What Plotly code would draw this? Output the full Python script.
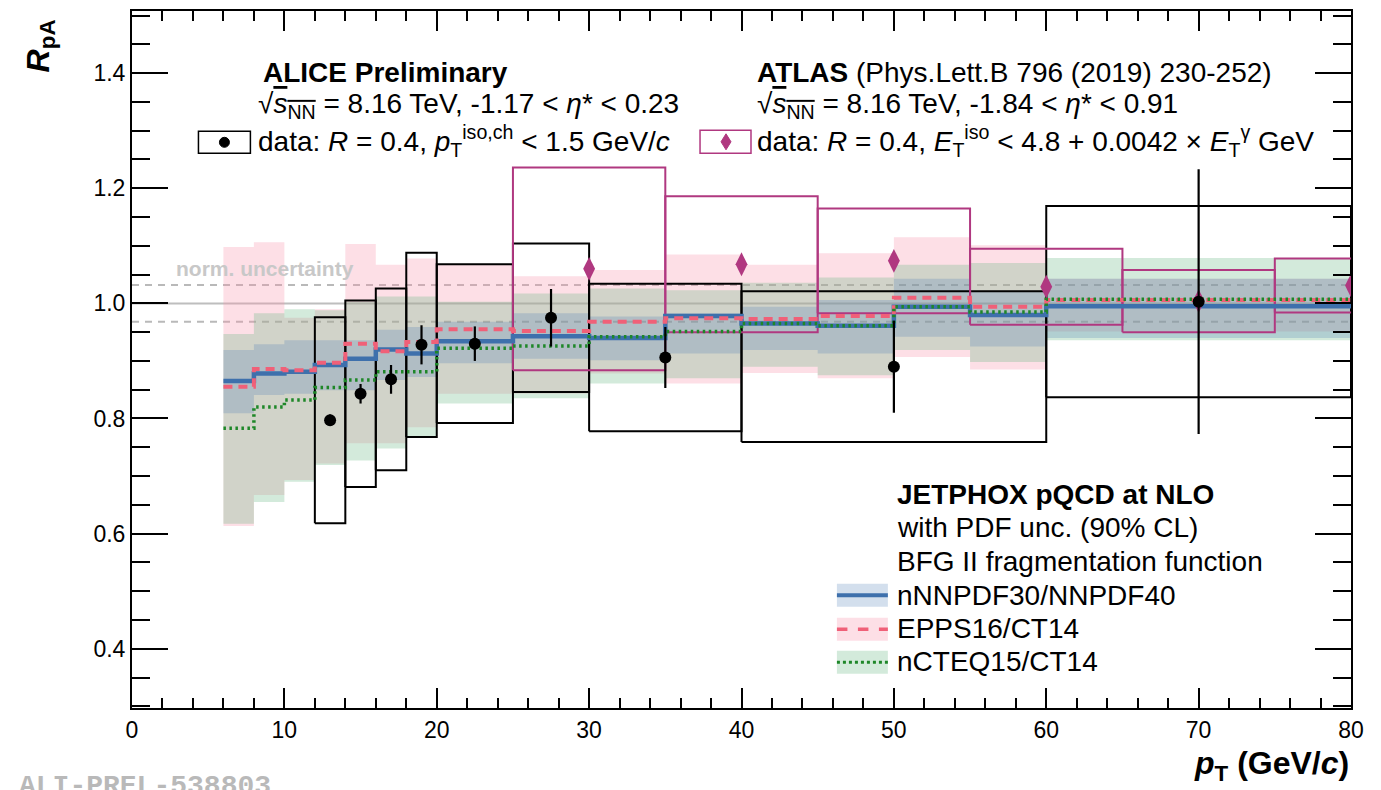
import plotly.graph_objects as go

# ---------------- ALICE isolated photons, p-Pb 8.16 TeV ----------------
alice_pt = [13, 15, 17, 19, 22.5, 27.5, 35, 50, 70]
alice_halfbin = [1, 1, 1, 1, 2.5, 2.5, 5, 10, 10]
alice_rpa = [0.797, 0.843, 0.868, 0.928, 0.930, 0.975, 0.906, 0.890, 1.003]
alice_stat = [0.010, 0.017, 0.025, 0.034, 0.030, 0.050, 0.053, 0.080, 0.230]
alice_syst = [0.179, 0.162, 0.158, 0.160, 0.138, 0.129, 0.128, 0.131, 0.166]

# ---------------- ATLAS, Phys.Lett.B 796 (2019) 230-252 ----------------
atlas_pt = [30, 40, 50, 60, 70, 80]
atlas_halfbin = [5, 5, 5, 5, 5, 5]
atlas_rpa = [1.060, 1.068, 1.074, 1.029, 1.004, 1.031]
atlas_syst = [0.176, 0.118, 0.091, 0.066, 0.054, 0.047]

# ---------------- JETPHOX NLO predictions ----------------
theory_edges = [6, 8, 10, 12, 14, 16, 18, 20, 25, 30, 35, 40, 45, 50, 55, 60, 80]

nnpdf_c = [0.865, 0.878, 0.881, 0.893, 0.904, 0.920, 0.913, 0.934, 0.943, 0.940,
           0.978, 0.965, 0.961, 0.994, 0.980, 0.995]
nnpdf_lo = [0.809, 0.841, 0.843, 0.849, 0.849, 0.867, 0.872, 0.896, 0.904, 0.901,
            0.913, 0.919, 0.913, 0.942, 0.925, 0.940]
nnpdf_hi = [0.919, 0.929, 0.936, 0.936, 0.936, 0.954, 0.959, 0.968, 0.983, 0.977,
            0.983, 0.994, 1.006, 1.043, 1.020, 1.043]

epps_c = [0.855, 0.886, 0.884, 0.897, 0.930, 0.917, 0.933, 0.955, 0.952, 0.968,
          0.974, 0.973, 0.978, 1.010, 0.994, 1.006]
epps_lo = [0.613, 0.667, 0.693, 0.722, 0.757, 0.757, 0.785, 0.843, 0.843, 0.878,
           0.861, 0.879, 0.870, 0.907, 0.885, 0.951]
epps_hi = [1.098, 1.106, 0.975, 0.990, 1.103, 1.067, 1.078, 1.067, 1.047, 1.058,
           1.085, 1.067, 1.087, 1.115, 1.101, 1.043]

ncteq_c = [0.783, 0.820, 0.832, 0.854, 0.867, 0.881, 0.881, 0.922, 0.926, 0.942,
           0.951, 0.965, 0.961, 0.994, 0.985, 1.007]
ncteq_lo = [0.617, 0.655, 0.690, 0.719, 0.727, 0.748, 0.767, 0.826, 0.835, 0.861,
            0.870, 0.890, 0.875, 0.919, 0.898, 0.936]
ncteq_hi = [0.947, 0.983, 0.990, 0.988, 1.003, 1.012, 1.012, 1.003, 1.017, 1.026,
            1.023, 1.036, 1.045, 1.067, 1.070, 1.079]

norm_unc = 0.032

# ---------------- styles ----------------
FONT = "Liberation Sans, Arial, Helvetica, sans-serif"
BLUE = "rgb(62,112,172)"
BLUE_BAND = "rgba(70,120,180,0.24)"
RED = "rgb(240,96,120)"
RED_BAND = "rgba(250,150,172,0.30)"
GREEN = "rgb(30,135,40)"
GREEN_BAND = "rgba(110,185,135,0.30)"
MAGENTA = "rgb(176,56,128)"
TXT = 28

# plot-area geometry (pixels) for placing header / legend decorations
W_PX, H_PX = 1381, 790
L_PX, R_PX, T_PX, B_PX = 131.5, 1351.5, 10.7, 707.7


def px(x):
    return (x - L_PX) / (R_PX - L_PX)


def py(y):
    return (B_PX - y) / (B_PX - T_PX)


def step_polygon(edges, lo, hi):
    xs, ys = [], []
    for i in range(len(hi)):
        xs += [edges[i], edges[i + 1]]
        ys += [hi[i], hi[i]]
    for i in reversed(range(len(lo))):
        xs += [edges[i + 1], edges[i]]
        ys += [lo[i], lo[i]]
    xs.append(xs[0])
    ys.append(ys[0])
    return xs, ys


def box_paths(xc, half, yc, err):
    xs, ys = [], []
    for x, h, y, e in zip(xc, half, yc, err):
        xs += [x - h, x + h, x + h, x - h, x - h, None]
        ys += [y - e, y - e, y + e, y + e, y - e, None]
    return xs, ys


fig = go.Figure()

# normalisation uncertainty lines
fig.add_trace(go.Scatter(x=[0, 80], y=[1.0, 1.0], mode="lines",
                         line=dict(color="rgb(190,190,190)", width=2),
                         hoverinfo="skip", showlegend=False))
for s in (+1, -1):
    fig.add_trace(go.Scatter(x=[0, 80], y=[1.0 + s * norm_unc] * 2, mode="lines",
                             line=dict(color="rgb(185,185,185)", width=2, dash="7px,6px"),
                             hoverinfo="skip", showlegend=False))

# theory bands
for lo, hi, col in ((epps_lo, epps_hi, RED_BAND),
                    (ncteq_lo, ncteq_hi, GREEN_BAND),
                    (nnpdf_lo, nnpdf_hi, BLUE_BAND)):
    bx, by = step_polygon(theory_edges, lo, hi)
    fig.add_trace(go.Scatter(x=bx, y=by, mode="lines", fill="toself",
                             fillcolor=col, line=dict(width=0),
                             hoverinfo="skip", showlegend=False))

# ALICE systematic boxes
bx, by = box_paths(alice_pt, alice_halfbin, alice_rpa, alice_syst)
fig.add_trace(go.Scatter(x=bx, y=by, mode="lines",
                         line=dict(color="black", width=2),
                         hoverinfo="skip", showlegend=False))

# ATLAS systematic boxes
bx, by = box_paths(atlas_pt, atlas_halfbin, atlas_rpa, atlas_syst)
fig.add_trace(go.Scatter(x=bx, y=by, mode="lines",
                         line=dict(color=MAGENTA, width=2),
                         hoverinfo="skip", showlegend=False))

# theory central values
for c, col, w, dash in ((nnpdf_c, BLUE, 4.5, "solid"),
                        (epps_c, RED, 4, "9px,6px"),
                        (ncteq_c, GREEN, 3.5, "2.5px,3.5px")):
    fig.add_trace(go.Scatter(x=theory_edges, y=c + [c[-1]], mode="lines",
                             line=dict(color=col, width=w, dash=dash, shape="hv"),
                             hoverinfo="skip", showlegend=False))

# ATLAS points
fig.add_trace(go.Scatter(x=atlas_pt, y=atlas_rpa, mode="markers",
                         marker=dict(symbol="diamond-tall", size=17, color=MAGENTA),
                         cliponaxis=True, showlegend=False))

# ALICE points with statistical errors
fig.add_trace(go.Scatter(x=alice_pt, y=alice_rpa, mode="markers",
                         marker=dict(symbol="circle", size=12, color="black"),
                         error_y=dict(type="data", array=alice_stat, visible=True,
                                      color="black", thickness=2.2, width=0),
                         showlegend=False))

ann = []


def text(x, y, s, size=TXT, color="black", anchor="left", family=FONT, yanchor="middle"):
    ann.append(dict(x=px(x), y=py(y), xref="paper", yref="paper", text=s,
                    showarrow=False, xanchor=anchor, yanchor=yanchor,
                    font=dict(family=family, size=size, color=color)))


sqrt_s = "√<span style='text-decoration:overline'><i>s</i><sub>NN</sub></span>"

text(261, 72, "<b>ALICE Preliminary</b>")
text(256, 105, sqrt_s + " = 8.16 TeV, -1.17 &lt; <i>η</i>* &lt; 0.23")
text(256, 141, "data: <i>R</i> = 0.4, <i>p</i><sub>T</sub><sup>iso,ch</sup> &lt; 1.5 GeV/<i>c</i>")

text(755, 72, "<b>ATLAS</b> (Phys.Lett.B 796 (2019) 230-252)")
text(755, 105, sqrt_s + " = 8.16 TeV, -1.84 &lt; <i>η</i>* &lt; 0.91")
text(755, 141, "data: <i>R</i> = 0.4, <i>E</i><sub>T</sub><sup>iso</sup> &lt; 4.8 + 0.0042 × "
               "<i>E</i><sub>T</sub><sup>γ</sup> GeV")

text(174, 268, "<b>norm. uncertainty</b>", size=21, color="rgb(200,200,200)")

text(895, 494, "<b>JETPHOX pQCD at NLO</b>")
text(895, 527, "with PDF unc. (90% CL)")
text(895, 561, "BFG II fragmentation function")
text(895, 595, "nNNPDF30/NNPDF40")
text(895, 628, "EPPS16/CT14")
text(895, 661, "nCTEQ15/CT14")

text(16, 786, "<b>ALI-PREL-538803</b>", size=28, color="rgb(185,185,185)",
     family="Liberation Mono, Courier New, monospace")

# axis titles
text(1352, 765, "<b><i>p</i><sub>T</sub> (GeV/<i>c</i>)</b>", size=32, anchor="right")
ann.append(dict(x=px(40), y=py(17), xref="paper", yref="paper",
                text="<b><i>R</i><sub>pA</sub></b>", textangle=-90,
                showarrow=False, xanchor="center", yanchor="top",
                font=dict(family=FONT, size=32, color="black")))

shapes = []
# header legend keys
shapes.append(dict(type="rect", xref="paper", yref="paper",
                   x0=px(198), x1=px(250), y0=py(153), y1=py(131),
                   line=dict(color="black", width=1.5), fillcolor="white"))
shapes.append(dict(type="circle", xref="paper", yref="paper",
                   x0=px(219), x1=px(229), y0=py(147), y1=py(137),
                   line=dict(color="black", width=1), fillcolor="black"))
shapes.append(dict(type="rect", xref="paper", yref="paper",
                   x0=px(700), x1=px(751), y0=py(153), y1=py(130),
                   line=dict(color=MAGENTA, width=1.5), fillcolor="white"))
dx0, dy0 = px(726), py(141.5)
dw, dh = 5 / (R_PX - L_PX), 8 / (B_PX - T_PX)
shapes.append(dict(type="path", xref="paper", yref="paper",
                   path=f"M {dx0},{dy0 + dh} L {dx0 + dw},{dy0} L {dx0},{dy0 - dh} L {dx0 - dw},{dy0} Z",
                   line=dict(color=MAGENTA, width=1), fillcolor=MAGENTA))

# theory legend keys
for yc, band, col, w, dash in ((595, BLUE_BAND, BLUE, 4, "solid"),
                               (629, RED_BAND, RED, 3.5, "dash"),
                               (662, GREEN_BAND, GREEN, 3, "dot")):
    shapes.append(dict(type="rect", xref="paper", yref="paper",
                       x0=px(837), x1=px(888), y0=py(yc + 11.5), y1=py(yc - 11.5),
                       line=dict(width=0), fillcolor=band))
    shapes.append(dict(type="line", xref="paper", yref="paper",
                       x0=px(837), x1=px(888), y0=py(yc), y1=py(yc),
                       line=dict(color=col, width=w, dash=dash)))

axis_common = dict(showline=True, linecolor="black", linewidth=2, mirror="ticks",
                   ticks="inside", tickcolor="black", tickwidth=2, showgrid=False,
                   zeroline=False, tickfont=dict(family=FONT, size=23, color="black"))

fig.update_layout(
    width=W_PX, height=H_PX,
    margin=dict(l=L_PX, r=W_PX - R_PX, t=T_PX, b=H_PX - B_PX, autoexpand=False),
    paper_bgcolor="white", plot_bgcolor="white",
    showlegend=False,
    xaxis=dict(range=[0, 80], tick0=0, dtick=10, ticklen=20,
               minor=dict(dtick=2, ticklen=10, tickcolor="black", tickwidth=2, ticks="inside"),
               **axis_common),
    yaxis=dict(range=[0.297, 1.508], tick0=0, dtick=0.2, ticklen=36,
               tickformat=".1f",
               minor=dict(dtick=0.05, ticklen=18, tickcolor="black", tickwidth=2, ticks="inside"),
               **axis_common),
    annotations=ann,
    shapes=shapes,
)

fig.write_html("out.html")
